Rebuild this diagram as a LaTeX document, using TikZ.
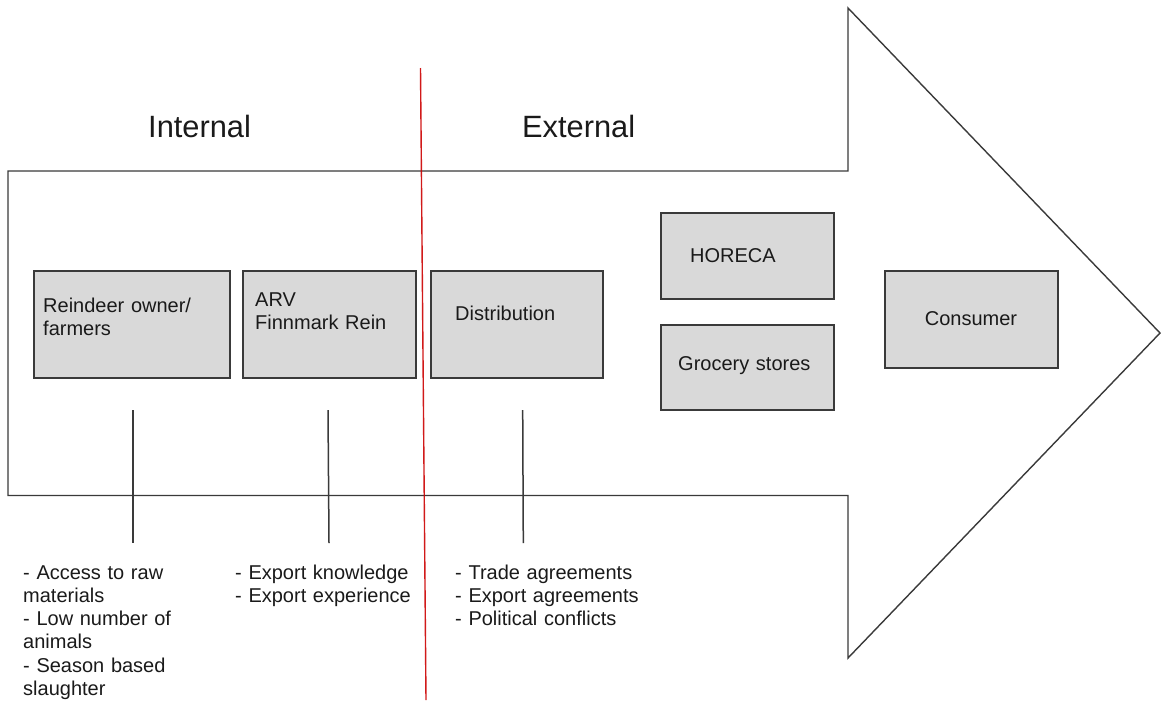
\documentclass[tikz,border=0pt]{standalone}
\usepackage{fontspec}
\setmainfont{Liberation Sans}
\definecolor{boxfill}{HTML}{D9D9D9}
\definecolor{edge}{HTML}{3A3A3A}
\definecolor{divider}{HTML}{CC0000}
\definecolor{ink}{HTML}{1A1A1A}
\tikzset{
  stage/.style={rectangle, draw=edge, line width=1.8pt, fill=boxfill,
    inner sep=0pt, anchor=north west},
  boxlabel/.style={anchor=base west, inner sep=0pt, text width=190pt,
    align=left, text=ink, font=\fontsize{20}{23.5}\selectfont},
  notes/.style={anchor=base west, inner sep=0pt, text width=200pt,
    align=left, text=ink, font=\fontsize{20}{23.3}\selectfont},
  heading/.style={anchor=base west, inner sep=0pt, text=ink,
    font=\fontsize{30.8}{36}\selectfont},
  flow/.style={draw=edge, line width=1.4pt, fill=white, line join=miter},
  tick/.style={draw=edge, line width=1.5pt},
  split/.style={draw=divider, line width=1.4pt, draw opacity=0.9}
}
\begin{document}
\begin{tikzpicture}[x=1pt, y=-1pt]
  \useasboundingbox (0,0) rectangle (1162,702);

  % big value-chain arrow
  \path[flow] (8,171) -- (848,171) -- (848,8) -- (1160,333) -- (848,658)
    -- (848,495.5) -- (8,495.5) -- cycle;

  % section headings
  \node[heading] (internal) at (148,137) {Internal};
  \node[heading] (external) at (522,137) {External};

  % stages of the chain
  \node[stage, minimum width=196pt, minimum height=107pt] (owners) at (33,270) {};
  \node[boxlabel] (owners-t) at (43,312) {Reindeer owner/\\farmers};

  \node[stage, minimum width=173pt, minimum height=107pt] (arv) at (242,270) {};
  \node[boxlabel] (arv-t) at (255,306) {ARV\\Finnmark Rein};

  \node[stage, minimum width=172pt, minimum height=107pt] (distr) at (430,270) {};
  \node[boxlabel] (distr-t) at (455,320) {Distribution};

  \node[stage, minimum width=173pt, minimum height=86pt] (horeca) at (660,212) {};
  \node[boxlabel] (horeca-t) at (690,262) {HORECA};

  \node[stage, minimum width=173pt, minimum height=85pt] (grocery) at (660,324) {};
  \node[boxlabel] (grocery-t) at (678,370) {Grocery stores};

  \node[stage, minimum width=173pt, minimum height=97pt] (consumer) at (884,270) {};
  \node[anchor=base, inner sep=0pt, text=ink, font=\fontsize{20}{23.5}\selectfont]
    (consumer-t) at (971,325) {Consumer};

  % internal / external divider
  \coordinate (div-top) at (420.5,68);
  \coordinate (div-bot) at (426,700);
  \draw[split] (div-top) -- (div-bot);

  % factor lists below the arrow
  \node[notes] (owners-n) at (23,579)
    {- Access to raw\\materials\\- Low number of\\animals\\- Season based\\slaughter};
  \node[notes] (arv-n) at (235,579)
    {- Export knowledge\\- Export experience};
  \node[notes] (distr-n) at (455,579)
    {- Trade agreements\\- Export agreements\\- Political conflicts};

  % leader lines from the stages to their factors
  \coordinate (l1a) at (133,410); \coordinate (l1b) at (133,543);
  \coordinate (l2a) at (328,410); \coordinate (l2b) at (329,543);
  \coordinate (l3a) at (522.7,410); \coordinate (l3b) at (523.3,543);
  \draw[tick] (l1a) -- (l1b);
  \draw[tick] (l2a) -- (l2b);
  \draw[tick] (l3a) -- (l3b);
\end{tikzpicture}
\end{document}
